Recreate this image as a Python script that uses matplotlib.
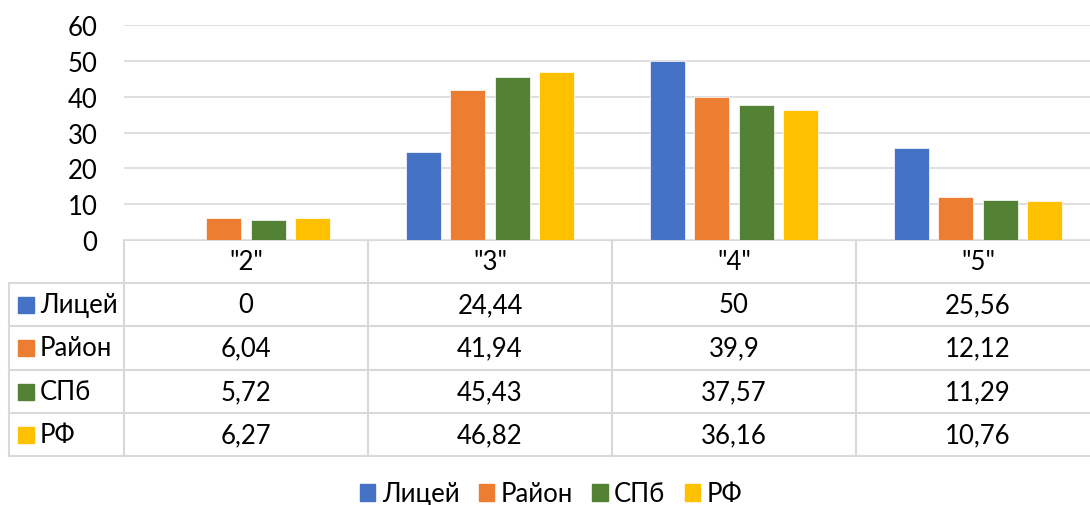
import numpy as np
import matplotlib.pyplot as plt
from matplotlib.patches import Patch, Rectangle

# grades and the share of each result per group, %
grades = ['"2"', '"3"', '"4"', '"5"']
series = ['Лицей', 'Район', 'СПб', 'РФ']
litsey = [0, 24.44, 50, 25.56]
rayon = [6.04, 41.94, 39.9, 12.12]
spb = [5.72, 45.43, 37.57, 11.29]
rf = [6.27, 46.82, 36.16, 10.76]
values = [litsey, rayon, spb, rf]
colors = ['#4472C4', '#ED7D31', '#548235', '#FFC000']

plt.rcParams['font.family'] = ['Lato', 'DejaVu Sans']
FS = 18.5
GRID = '#D9D9D9'

W, H = 1090, 506
fig = plt.figure(figsize=(W / 100, H / 100), dpi=100)

# plot area in pixels
x0, x1 = 124, 1100
y_top, y_base = 26, 241
ax = fig.add_axes([x0 / W, 1 - y_base / H, (x1 - x0) / W, (y_base - y_top) / H])

n = len(grades)
bw, step = 0.1435, 0.1816
for k, (name, vals) in enumerate(zip(series, values)):
    xs = np.arange(n) + 0.5 + (k - 1.5) * step
    ax.bar(xs, vals, width=bw, color=colors[k], edgecolor='white',
           linewidth=0.5, zorder=3, label=name)

ax.set_xlim(0, n)
ax.set_ylim(0, 60)
ax.set_yticks(range(0, 61, 10))
ax.set_xticks([])
ax.grid(axis='y', color=GRID, linewidth=1.2, zorder=0)
for s in ax.spines.values():
    s.set_visible(False)
ax.tick_params(axis='y', length=0, pad=19, labelsize=FS)

# data table below the plot, drawn in pixel coordinates
tb = fig.add_axes([0, 0, 1, 1], zorder=-1)
tb.set_xlim(0, W)
tb.set_ylim(H, 0)
tb.axis('off')

cell_w = (x1 - x0) / n
col_x = [x0 + cell_w * i for i in range(n + 1)]
rows_y = [241, 284, 327, 371, 414, 457]
tab_left = 9
lw = 1.5

tb.plot([x0, x1], [rows_y[0]] * 2, color=GRID, lw=lw)
for y in rows_y[1:]:
    tb.plot([tab_left, x1], [y, y], color=GRID, lw=lw)
tb.plot([tab_left, tab_left], [rows_y[1], rows_y[-1]], color=GRID, lw=lw)
for x in col_x[:-1]:
    tb.plot([x, x], [rows_y[0], rows_y[-1]], color=GRID, lw=lw)

for i, g in enumerate(grades):
    tb.text(col_x[i] + cell_w / 2, (rows_y[0] + rows_y[1]) / 2, g,
            ha='center', va='center', fontsize=FS)

for r, (name, vals) in enumerate(zip(series, values)):
    yc = (rows_y[r + 1] + rows_y[r + 2]) / 2
    tb.add_patch(Rectangle((18, yc - 8), 16, 16, color=colors[r]))
    tb.text(40, yc, name, ha='left', va='center', fontsize=FS)
    for i, v in enumerate(vals):
        txt = f'{v:g}'.replace('.', ',')
        tb.text(col_x[i] + cell_w / 2, yc, txt, ha='center', va='center',
                fontsize=FS)

handles = [Patch(color=c, label=s) for c, s in zip(colors, series)]
fig.legend(handles=handles, loc='center', bbox_to_anchor=(551 / W, 1 - 495 / H),
           ncol=4, frameon=False, fontsize=FS, handlelength=0.6,
           handleheight=0.6, handletextpad=0.25, columnspacing=0.75)

fig.savefig('out.png', dpi=100)
